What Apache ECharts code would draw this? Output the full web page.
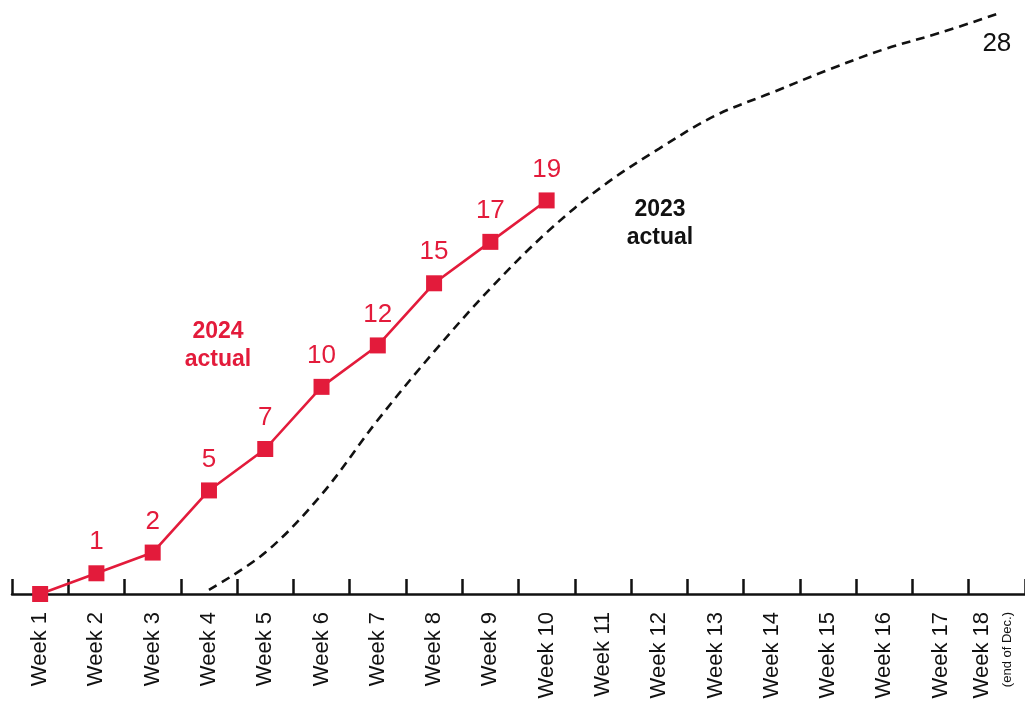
<!DOCTYPE html>
<html>
<head>
<meta charset="utf-8">
<script src="https://cdn.jsdelivr.net/npm/echarts@6/dist/echarts.min.js"></script>
<style>
  html, body { margin: 0; padding: 0; background: #fff; }
  #chart { width: 1025px; height: 702px; }
</style>
</head>
<body>
<div id="chart"></div>
<script>
// Weekly cumulative counts
const weeks = ['Week 1', 'Week 2', 'Week 3', 'Week 4', 'Week 5', 'Week 6', 'Week 7', 'Week 8', 'Week 9',
  'Week 10', 'Week 11', 'Week 12', 'Week 13', 'Week 14', 'Week 15', 'Week 16', 'Week 17', 'Week 18'];
const actual2024 = [0, 1, 2, 5, 7, 10, 12, 15, 17, 19];
const actual2023 = [null, null, null, 0.2, 2.0, 4.8, 8.4, 11.7, 14.75, 17.45, 19.7, 21.5, 23.1, 24.2, 25.3, 26.3, 27.1, 28];
const lastWeekNote = '(end of Dec.)';

const RED = '#e31b3b';
const FONT = '"Liberation Sans", Arial, Helvetica, sans-serif';

const chart = echarts.init(document.getElementById('chart'));
chart.setOption({
  animation: false,
  backgroundColor: '#ffffff',
  grid: { left: 12, right: 0, top: 14, bottom: 108 },
  xAxis: {
    type: 'category',
    data: weeks,
    boundaryGap: true,
    axisLine: { lineStyle: { color: '#111', width: 2.5 } },
    axisTick: { show: true, inside: true, length: 15, lineStyle: { color: '#111', width: 2.5 } },
    axisLabel: {
      rotate: 90,
      interval: 0,
      margin: 18,
      color: '#111',
      fontFamily: FONT,
      fontSize: 22,
      formatter: function (v, i) {
        return i === weeks.length - 1 ? v + '\n{note|' + lastWeekNote + '}' : v;
      },
      rich: {
        note: { fontSize: 13, fontFamily: FONT, color: '#111', lineHeight: 30 }
      }
    }
  },
  yAxis: {
    type: 'value',
    min: 0,
    max: 28,
    show: false,
    splitLine: { show: false }
  },
  graphic: [
    {
      type: 'text',
      x: 218, y: 318,
      style: { text: '2024\nactual', fill: RED, font: 'bold 23px ' + FONT, align: 'center', lineHeight: 28 }
    },
    {
      type: 'text',
      x: 660, y: 196,
      style: { text: '2023\nactual', fill: '#111', font: 'bold 23px ' + FONT, align: 'center', lineHeight: 28 }
    }
  ],
  series: [
    {
      name: '2023 actual',
      type: 'line',
      data: actual2023,
      smooth: 0.35,
      symbol: 'circle',
      symbolSize: 1,
      showSymbol: true,
      clip: false,
      itemStyle: { color: 'rgba(0,0,0,0)' },
      lineStyle: { color: '#111', width: 2.6, type: [9, 6] },
      label: {
        show: true,
        position: 'bottom',
        distance: 16,
        color: '#111',
        fontFamily: FONT,
        fontSize: 26,
        formatter: function (p) { return p.dataIndex === actual2023.length - 1 ? String(p.value) : ''; }
      },
      z: 3
    },
    {
      name: '2024 actual',
      type: 'line',
      data: actual2024,
      symbol: 'rect',
      symbolSize: 16,
      clip: false,
      lineStyle: { color: RED, width: 2.6 },
      itemStyle: { color: RED },
      label: {
        show: true,
        position: 'top',
        distance: 10,
        color: RED,
        fontFamily: FONT,
        fontSize: 26,
        formatter: function (p) { return p.value === 0 ? '' : String(p.value); }
      },
      z: 4
    }
  ]
});
</script>
</body>
</html>
